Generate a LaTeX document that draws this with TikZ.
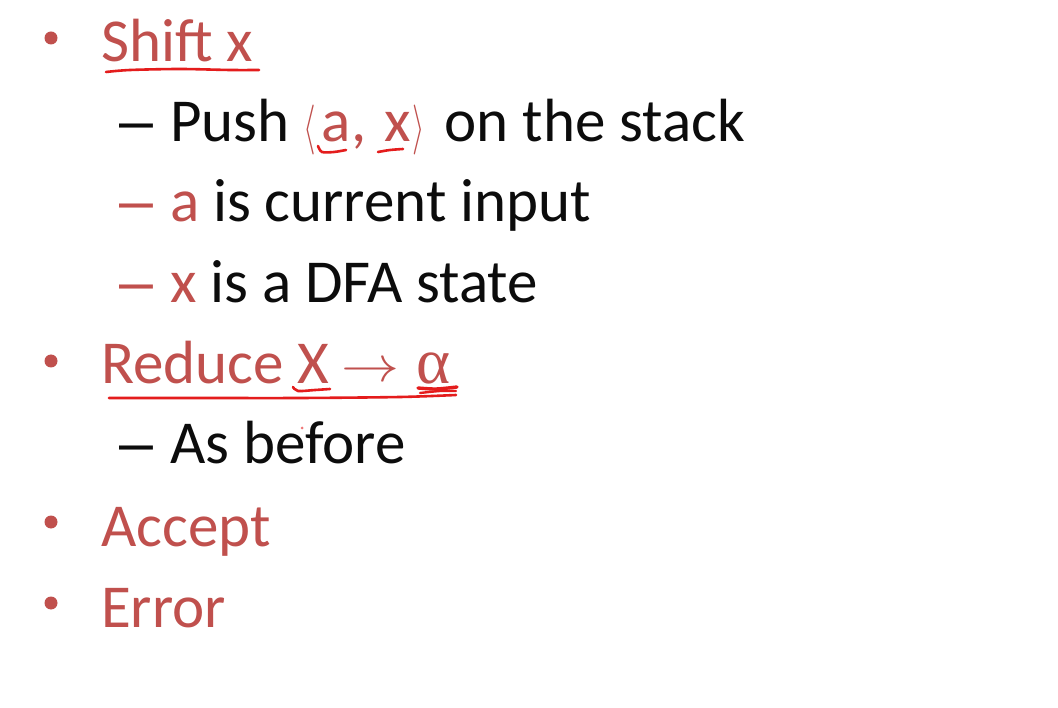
\documentclass[tikz,border=0pt]{standalone}
\usepackage{fontspec}
\setmainfont{Carlito}
\newfontfamily\symfont{Liberation Serif}
\newfontfamily\dashfont{Liberation Sans}
\definecolor{slidered}{RGB}{192,80,77}
\definecolor{inkred}{RGB}{228,28,28}
\definecolor{slideblack}{RGB}{12,12,12}
\newcommand{\bigla}{\raisebox{-0.5pt}{\scalebox{3.2}[5]{\fontsize{10}{12}\selectfont$\langle$}}}
\newcommand{\bigra}{\raisebox{-0.5pt}{\scalebox{3.2}[5]{\fontsize{10}{12}\selectfont$\rangle$}}}
\newcommand{\bigarrow}{\raisebox{2pt}{\scalebox{5.8}[5]{\fontsize{10}{12}\selectfont$\rightarrow$}}}
\tikzset{
  txt/.style={anchor=base west, inner sep=0pt, font=\fontsize{61}{61}\selectfont},
  lvlone/.style={txt, text=slidered},
  lvltwo/.style={txt, text=slideblack},
  dashmark/.style={anchor=base west, inner sep=0pt, font=\dashfont\fontsize{61}{61}\selectfont},
  bulletdot/.style={circle, fill=slidered, inner sep=0pt, minimum size=13pt},
  ink/.style={draw=inkred, line width=2.6pt, line cap=round, line join=round},
}
\begin{document}
\begin{tikzpicture}[x=1pt,y=1pt]
\useasboundingbox (0,0) rectangle (1058,-708);
\fill[white] (0,0) rectangle (1058,-708);

% level one items
\node[bulletdot] (b1) at (51,-38) {};
\node[lvlone] (shift) at (101,-62) {Shift x};

\node[dashmark, text=slideblack] (d1) at (119,-142) {–};
\node[lvltwo] (push) at (170,-142) {Push \textcolor{slidered}{\bigla\hspace{6pt}a, \hspace{4pt}x\hspace{2pt}\bigra}\hspace{6pt} on the stack};

\node[dashmark, text=slidered] (d2) at (119,-222) {–};
\node[lvltwo] (cur) at (170,-222) {\textcolor{slidered}{a} is current input};

\node[dashmark, text=slidered] (d3) at (119,-303) {–};
\node[lvltwo] (dfa) at (170,-303) {\textcolor{slidered}{x} is a DFA state};

\node[bulletdot] (b2) at (51,-361) {};
\node[lvlone] (reduce) at (101,-384) {Reduce X\hspace{12pt}\bigarrow\hspace{17pt}{\symfont\fontsize{65}{65}\selectfont α}};

\node[dashmark, text=slideblack] (d4) at (119,-464) {–};
\node[lvltwo] (before) at (170,-464) {As before};

\node[bulletdot] (b3) at (51,-522) {};
\node[lvlone] (accept) at (101,-546) {Accept};

\node[bulletdot] (b4) at (51,-603) {};
\node[lvlone] (error) at (101,-627) {Error};

% handwritten underlines
\draw[ink] plot[smooth] coordinates {(106,-72) (130,-70) (180,-69) (230,-70) (259,-70)};
\draw[ink] plot[smooth] coordinates {(318,-146) (322,-152) (334,-152) (346,-150)};
\draw[ink] plot[smooth] coordinates {(378,-152) (390,-150) (403,-149)};
\draw[ink] plot[smooth] coordinates {(109,-398) (200,-398) (300,-398) (400,-397) (456,-395)};
\draw[ink] plot[smooth] coordinates {(293,-387) (298,-391) (315,-390) (330,-389)};
\draw[ink, line width=3.4pt] plot[smooth] coordinates {(418,-388) (436,-389) (457,-387)};
\draw[ink, line width=2.4pt] plot[smooth] coordinates {(420,-393) (440,-391) (456,-391)};
\fill[inkred!60] (302,-428) circle (1.5pt);
\end{tikzpicture}
\end{document}
